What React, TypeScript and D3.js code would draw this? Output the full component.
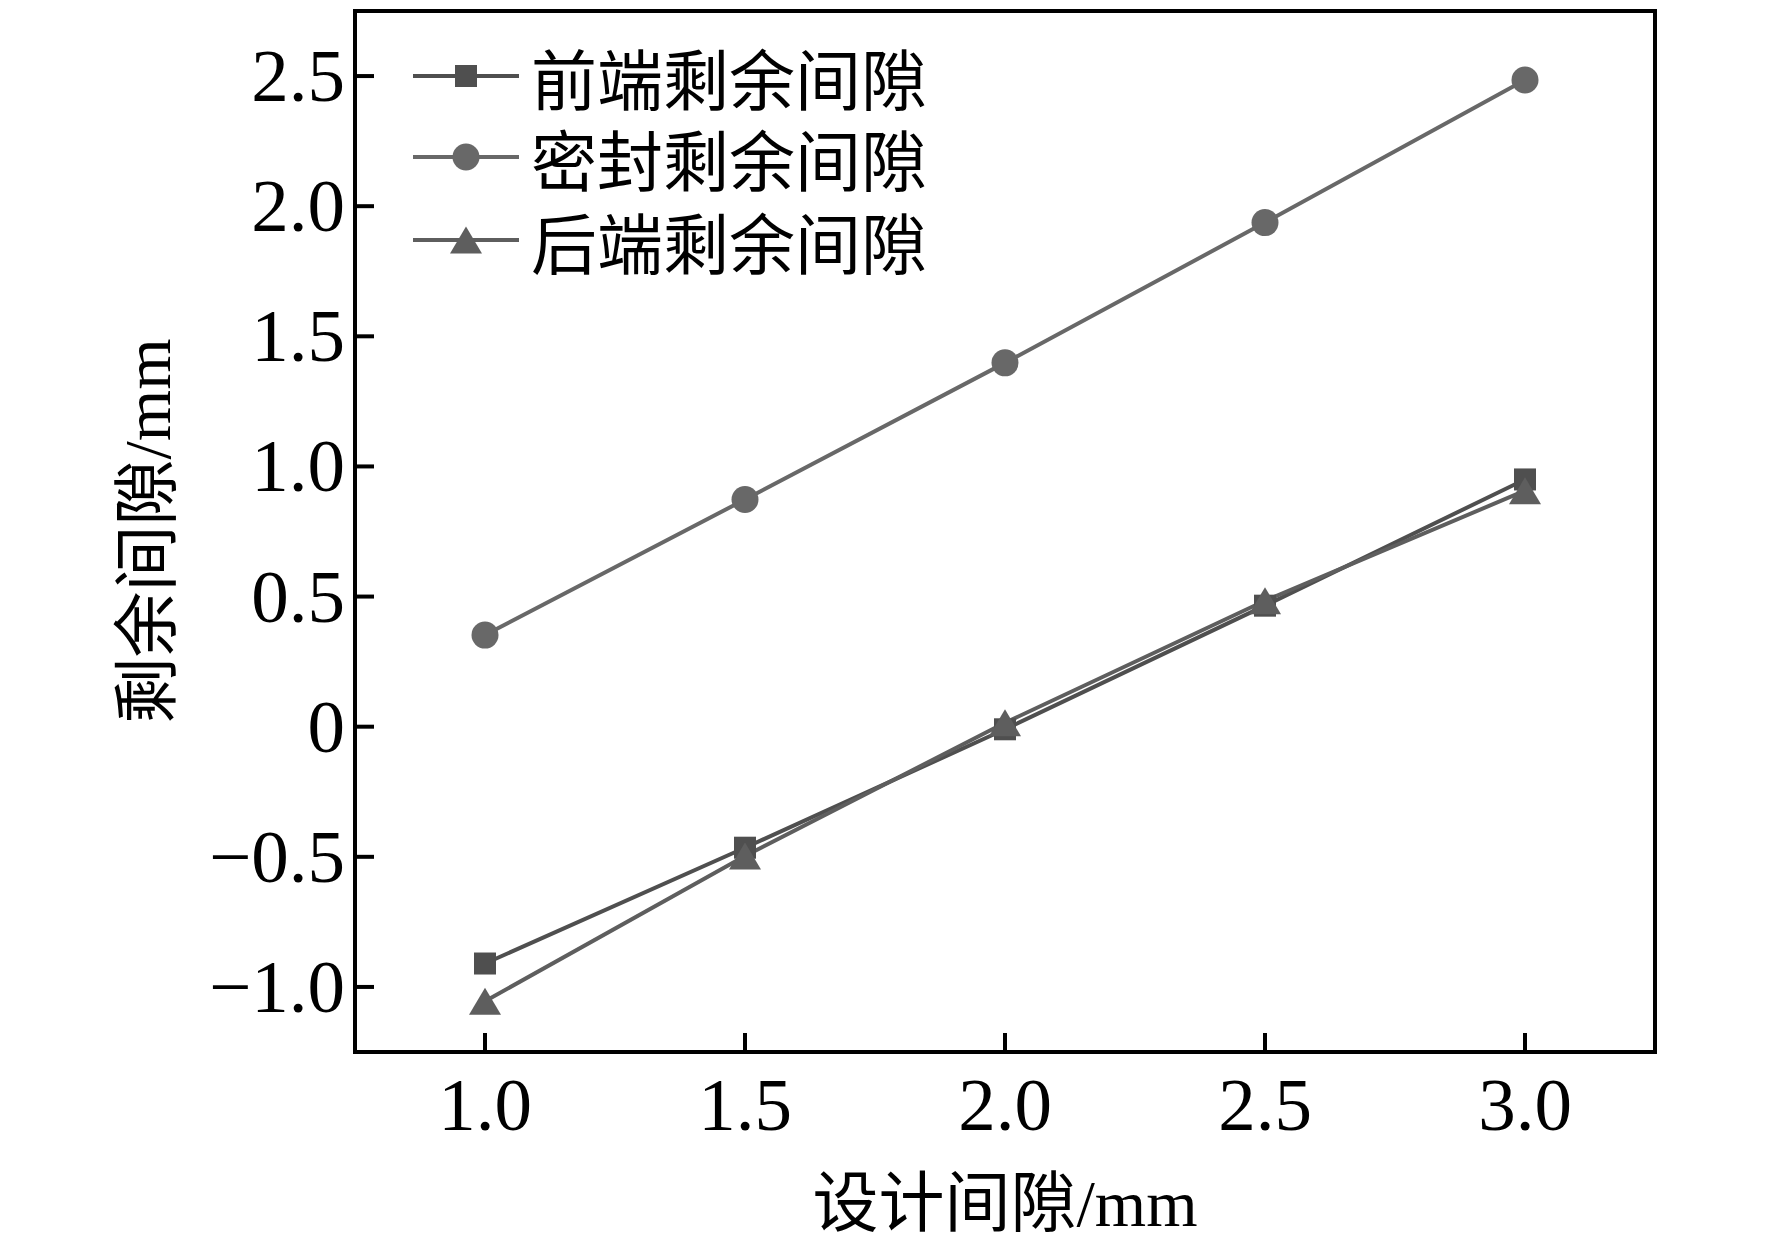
import React from "react";
import * as d3 from "d3";

const xValues = [1.0, 1.5, 2.0, 2.5, 3.0];
const frontGap = [-0.91, -0.465, -0.01, 0.465, 0.95];
const sealGap = [0.352, 0.873, 1.398, 1.937, 2.485];
const rearGap = [-1.055, -0.497, 0.015, 0.484, 0.907];
const xTicks = [1.0, 1.5, 2.0, 2.5, 3.0];
const yTicks = [-1.0, -0.5, 0, 0.5, 1.0, 1.5, 2.0, 2.5];
const seriesNames = ["前端剩余间隙", "密封剩余间隙", "后端剩余间隙"];
const seriesColors = ["#4f4f4f", "#686868", "#5e5e5e"];
const seriesShapes = ["square", "circle", "triangle"];

const W = 1772;
const H = 1252;
const M = { left: 355, right: 1655, top: 11, bottom: 1052 };
const SERIF = "'Liberation Serif', 'Times New Roman', serif";
const CJK = "'Noto Sans CJK SC', 'Noto Sans CJK JP', sans-serif";

function Marker({ shape, cx, cy, color }: { shape: string; cx: number; cy: number; color: string }) {
  if (shape === "square") {
    const s = 22;
    return <rect x={cx - s / 2} y={cy - s / 2} width={s} height={s} fill={color} />;
  }
  if (shape === "circle") {
    return <circle cx={cx} cy={cy} r={13.5} fill={color} />;
  }
  const w = 32;
  const h = 27;
  const p = `M${cx},${cy - h / 2} L${cx + w / 2},${cy + h / 2} L${cx - w / 2},${cy + h / 2} Z`;
  return <path d={p} fill={color} />;
}

export default function App() {
  const x = d3.scaleLinear().domain([0.75, 3.25]).range([M.left, M.right]);
  const y = d3.scaleLinear().domain([-1.25, 2.75]).range([M.bottom, M.top]);
  const series = [frontGap, sealGap, rearGap];
  const line = d3
    .line<number>()
    .x((_, i) => x(xValues[i]))
    .y((d) => y(d));

  const fmtY = (v: number) => {
    if (v === 0) return "0";
    const s = Math.abs(v).toFixed(1);
    return v < 0 ? "\u2212" + s : s;
  };

  const legendRows = [76, 157, 240];

  return (
    <svg
      width={W}
      height={H}
      style={{ position: "absolute", left: 0, top: 0, background: "#fff" }}
    >
      <rect x={0} y={0} width={W} height={H} fill="#fff" />
      {/* series lines */}
      {series.map((s, k) => (
        <path key={"l" + k} d={line(s) || ""} fill="none" stroke={seriesColors[k]} strokeWidth={4} />
      ))}
      {/* markers */}
      {series.map((s, k) =>
        s.map((v, i) => (
          <Marker key={"m" + k + "-" + i} shape={seriesShapes[k]} cx={x(xValues[i])} cy={y(v)} color={seriesColors[k]} />
        ))
      )}
      {/* frame */}
      <rect
        x={M.left}
        y={M.top}
        width={M.right - M.left}
        height={M.bottom - M.top}
        fill="none"
        stroke="#000"
        strokeWidth={4}
      />
      {/* x ticks */}
      {xTicks.map((t) => (
        <g key={"xt" + t}>
          <line x1={x(t)} x2={x(t)} y1={M.bottom} y2={M.bottom - 19} stroke="#000" strokeWidth={4} />
          <text
            x={x(t)}
            y={1130}
            textAnchor="middle"
            fontFamily={SERIF}
            fontSize={75}
            fill="#000"
          >
            {t.toFixed(1)}
          </text>
        </g>
      ))}
      {/* y ticks */}
      {yTicks.map((t) => (
        <g key={"yt" + t}>
          <line x1={M.left} x2={M.left + 19} y1={y(t)} y2={y(t)} stroke="#000" strokeWidth={4} />
          <text
            x={345}
            y={y(t) + 25}
            textAnchor="end"
            fontFamily={SERIF}
            fontSize={75}
            fill="#000"
          >
            {fmtY(t)}
          </text>
        </g>
      ))}
      {/* x axis title */}
      <text x={1005} y={1226} textAnchor="middle" fontSize={66} fill="#000">
        <tspan fontFamily={CJK}>设计间隙</tspan>
        <tspan fontFamily={SERIF}>/mm</tspan>
      </text>
      {/* y axis title */}
      <text
        transform={`translate(170, 531) rotate(-90)`}
        textAnchor="middle"
        fontSize={66}
        fill="#000"
      >
        <tspan fontFamily={CJK}>剩余间隙</tspan>
        <tspan fontFamily={SERIF}>/mm</tspan>
      </text>
      {/* legend */}
      {seriesNames.map((name, k) => (
        <g key={"lg" + k}>
          <line x1={413} x2={519} y1={legendRows[k]} y2={legendRows[k]} stroke={seriesColors[k]} strokeWidth={4} />
          <Marker shape={seriesShapes[k]} cx={466} cy={legendRows[k]} color={seriesColors[k]} />
          <text
            x={531}
            y={legendRows[k]}
            dominantBaseline="central"
            fontFamily={CJK}
            fontSize={66}
            fill="#000"
          >
            {name}
          </text>
        </g>
      ))}
    </svg>
  );
}
